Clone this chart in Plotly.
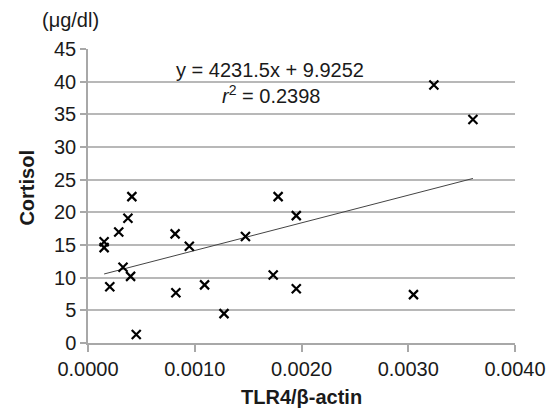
import plotly.graph_objects as go

# Data
tlr4 = [0.000411, 0.000374, 0.000288, 0.000151, 0.000151, 0.000328, 0.000399, 0.000204,
        0.000452, 0.000816, 0.000949, 0.000823, 0.001092, 0.001274, 0.001475, 0.001781,
        0.001951, 0.001735, 0.001951, 0.003049, 0.003240, 0.003606]
cortisol = [22.4, 19.1, 17.0, 15.5, 14.6, 11.6, 10.2, 8.6,
            1.3, 16.7, 14.8, 7.7, 8.9, 4.5, 16.3, 22.4,
            19.5, 10.4, 8.3, 7.4, 39.5, 34.2]
slope = 4231.5
intercept = 9.9252
r2 = 0.2398
x_ticks = [0.0, 0.001, 0.002, 0.003, 0.004]
y_ticks = [0, 5, 10, 15, 20, 25, 30, 35, 40, 45]

FONT = "Liberation Sans, Arial, Helvetica, sans-serif"
W, H = 558, 409
ML, MR, MT, MB = 88, 39, 49, 66

xmin, xmax = min(tlr4), max(tlr4)
fit_x = [xmin, xmax]
fit_y = [slope * v + intercept for v in fit_x]

fig = go.Figure()
fig.add_trace(go.Scatter(x=fit_x, y=fit_y, mode="lines",
                         line=dict(color="#444444", width=1), hoverinfo="skip"))
fig.add_trace(go.Scatter(x=tlr4, y=cortisol, mode="markers",
                         marker=dict(symbol="x-thin", size=9,
                                     line=dict(color="black", width=2.2))))

fig.update_layout(
    width=W, height=H,
    margin=dict(l=ML, r=MR, t=MT, b=MB),
    paper_bgcolor="white", plot_bgcolor="white",
    showlegend=False,
    font=dict(family=FONT, size=20, color="#1a1a1a"),
    xaxis=dict(range=[0, 0.004], tickvals=x_ticks, tickformat=".4f",
               showgrid=False, zeroline=False,
               showline=True, linecolor="#a8a8a8", linewidth=1.5,
               ticks="outside", ticklen=7, tickcolor="#a8a8a8", tickwidth=1.5,
               tickfont=dict(size=20, family=FONT, color="#1a1a1a")),
    yaxis=dict(range=[0, 45], tickvals=y_ticks,
               showgrid=True, gridcolor="#b8b8b8", gridwidth=1.5, zeroline=False,
               showline=True, linecolor="#a8a8a8", linewidth=1.5,
               ticks="outside", ticklen=6, tickcolor="#a8a8a8", tickwidth=1.5,
               tickfont=dict(size=20, family=FONT, color="#1a1a1a")),
)

pw, ph = W - ML - MR, H - MT - MB
annotations = [
    dict(text="(μg/dl)", x=70, y=20),
    dict(text="<b>Cortisol</b>", x=26, y=188, textangle=-90),
    dict(text="<b>TLR4/β-actin</b>", x=303, y=397),
    dict(text=f"y = {slope}x + {intercept}", x=272, y=70),
    dict(text=f"<i>r</i><sup>2</sup> = {r2}", x=273, y=95),
]
for a in annotations:
    fig.add_annotation(
        text=a["text"], textangle=a.get("textangle", 0),
        x=(a["x"] - ML) / pw, y=(H - MB - a["y"]) / ph,
        xref="paper", yref="paper",
        xanchor="center", yanchor="middle", showarrow=False,
        font=dict(family=FONT, size=20, color="#1a1a1a"),
    )

fig.write_html("out.html")
